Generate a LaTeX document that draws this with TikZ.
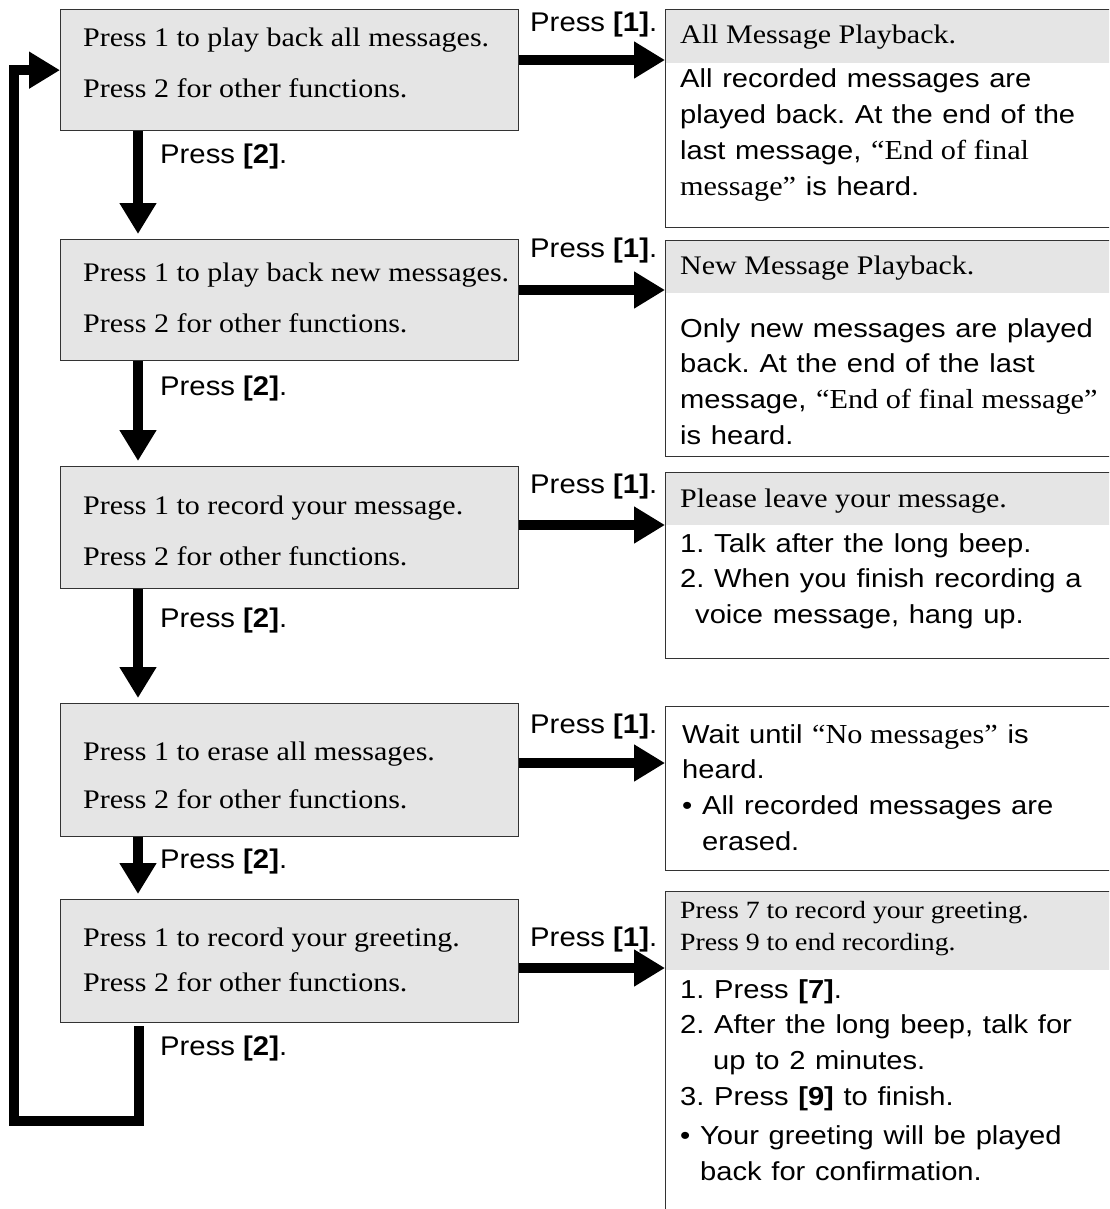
\documentclass[tikz,border=0pt]{standalone}
\usepackage{fontspec}
\usetikzlibrary{arrows.meta}
\setmainfont{Liberation Serif}
\newfontfamily\boxserif{Liberation Serif}[FakeStretch=1.12]
\newfontfamily\qserif{Liberation Serif}[FakeStretch=1.1]
\newfontfamily\bodysans{Liberation Sans}[FakeStretch=1.12,WordSpace=1.2]
\newfontfamily\lblsans{Liberation Sans}[FakeStretch=1.085]
\definecolor{boxgray}{RGB}{229,229,229}
\newcommand\mylines[1]{\begin{tabular}[t]{@{}l@{}}#1\end{tabular}}
\newcommand\qs[1]{{\qserif\fontsize{27.5}{35.8}\selectfont #1}}
\frenchspacing
\begin{document}
\begin{tikzpicture}[x=1pt,y=-1pt,
  leftbox/.style={draw=black!80,line width=1.3pt,fill=boxgray,inner sep=0pt,anchor=north west,minimum width=458pt},
  rightbox/.style={draw=black!80,line width=1.3pt,fill=white,inner sep=0pt,anchor=north west,minimum width=470pt},
  header/.style={fill=boxgray,inner sep=0pt,anchor=north west,minimum width=460pt},
  boxtext/.style={anchor=base west,inner sep=0pt,font=\boxserif\fontsize{26.8}{30}\selectfont},
  lbl/.style={anchor=base west,inner sep=0pt,font=\lblsans\fontsize{27}{30}\selectfont},
  hdtext/.style={anchor=base west,inner sep=0pt,font=\boxserif\fontsize{26.8}{32}\selectfont},
  hdsmall/.style={anchor=base west,inner sep=0pt,font=\boxserif\fontsize{24.8}{32}\selectfont},
  body/.style={anchor=base west,inner sep=0pt,font=\bodysans\fontsize{26}{35.8}\selectfont},
  flow/.style={line width=10pt,-{Triangle[length=31pt,width=35pt]}},
]
\clip (0,0) rectangle (1109,1209);

% left boxes
\node[leftbox,minimum height=121pt] (b1) at (60,9) {};
\node[leftbox,minimum height=121pt] (b2) at (60,239) {};
\node[leftbox,minimum height=122pt] (b3) at (60,466) {};
\node[leftbox,minimum height=133pt] (b4) at (60,703) {};
\node[leftbox,minimum height=123pt] (b5) at (60,899) {};

\node[boxtext] (b1a) at (83,47) {Press 1 to play back all messages.};
\node[boxtext] (b1b) at (83,98) {Press 2 for other functions.};
\node[boxtext] (b2a) at (83,281) {Press 1 to play back new messages.};
\node[boxtext] (b2b) at (83,332) {Press 2 for other functions.};
\node[boxtext] (b3a) at (83,514) {Press 1 to record your message.};
\node[boxtext] (b3b) at (83,565) {Press 2 for other functions.};
\node[boxtext] (b4a) at (83,760) {Press 1 to erase all messages.};
\node[boxtext] (b4b) at (83,808) {Press 2 for other functions.};
\node[boxtext] (b5a) at (83,946) {Press 1 to record your greeting.};
\node[boxtext] (b5b) at (83,991) {Press 2 for other functions.};

% right boxes
\node[rightbox,minimum height=218pt] (r1) at (665,9) {};
\node[header,minimum height=53.4pt] (h1) at (665.65,9.65) {};
\node[rightbox,minimum height=216pt] (r2) at (665,240) {};
\node[header,minimum height=52.4pt] (h2) at (665.65,240.65) {};
\node[rightbox,minimum height=186pt] (r3) at (665,472) {};
\node[header,minimum height=52.4pt] (h3) at (665.65,472.65) {};
\node[rightbox,minimum height=164pt] (r4) at (665,706) {};
\node[rightbox,minimum height=400pt] (r5) at (665,891) {};
\node[header,minimum height=78.4pt] (h5) at (665.65,891.65) {};

\node[hdtext] (h1t) at (680,44) {All Message Playback.};
\node[body] (r1t) at (680,88) {\mylines{All recorded messages are\\
played back. At the end of the\\
last message, \qs{“End of final}\\
\qs{message”} is heard.}};

\node[hdtext] (h2t) at (680,274) {New Message Playback.};
\node[body] (r2t) at (680,337) {\mylines{Only new messages are played\\
back. At the end of the last\\
message, \qs{“End of final message”}\\
is heard.}};

\node[hdtext] (h3t) at (680,507) {Please leave your message.};
\node[body] (r3t) at (680,552) {\mylines{1. Talk after the long beep.\\
2. When you finish recording a\\
\hspace*{15pt}voice message, hang up.}};

\node[body] (r4t) at (682,743) {\mylines{Wait until \qs{“No messages”} is\\
heard.\\
• All recorded messages are\\
\hspace*{20pt}erased.}};

\node[hdsmall] (h5t) at (680,918) {\mylines{Press 7 to record your greeting.\\
Press 9 to end recording.}};
\node[body] (r5t) at (680,998) {\mylines{1. Press \textbf{[7]}.\\
2. After the long beep, talk for\\
\hspace*{33pt}up to 2 minutes.\\
3. Press \textbf{[9]} to finish.\\[3pt]
• Your greeting will be played\\
\hspace*{20pt}back for confirmation.}};

% labels
\node[lbl] (p1a) at (530,32) {Press \textbf{[1]}.};
\node[lbl] (p1b) at (530,257) {Press \textbf{[1]}.};
\node[lbl] (p1c) at (530,493) {Press \textbf{[1]}.};
\node[lbl] (p1d) at (530,733) {Press \textbf{[1]}.};
\node[lbl] (p1e) at (530,946) {Press \textbf{[1]}.};
\node[lbl] (p2a) at (160,164) {Press \textbf{[2]}.};
\node[lbl] (p2b) at (160,395) {Press \textbf{[2]}.};
\node[lbl] (p2c) at (160,627) {Press \textbf{[2]}.};
\node[lbl] (p2d) at (160,868) {Press \textbf{[2]}.};
\node[lbl] (p2e) at (160,1055) {Press \textbf{[2]}.};

% right arrows
\coordinate (t1) at (665,60);
\coordinate (t2) at (665,290);
\coordinate (t3) at (665,525);
\coordinate (t4) at (665,763);
\coordinate (t5) at (665,968);
\draw[flow] (b1.east |- t1) -- (t1);
\draw[flow] (b2.east |- t2) -- (t2);
\draw[flow] (b3.east |- t3) -- (t3);
\draw[flow] (b4.east |- t4) -- (t4);
\draw[flow] (b5.east |- t5) -- (t5);

% down arrows
\draw[flow] ([xshift=78pt]b1.south west) -- ([xshift=78pt,yshift=5pt]b2.north west);
\draw[flow] ([xshift=78pt]b2.south west) -- ([xshift=78pt,yshift=5pt]b3.north west);
\draw[flow] ([xshift=78pt]b3.south west) -- ([xshift=78pt,yshift=5pt]b4.north west);
\draw[flow] ([xshift=78pt]b4.south west) -- ([xshift=78pt,yshift=5pt]b5.north west);

% feedback loop
\draw[flow] ([xshift=79pt,yshift=-3pt]b5.south west) -- ++(0,95) -| ([xshift=-46pt]b1.west) -- (b1.west);
\end{tikzpicture}
\end{document}
